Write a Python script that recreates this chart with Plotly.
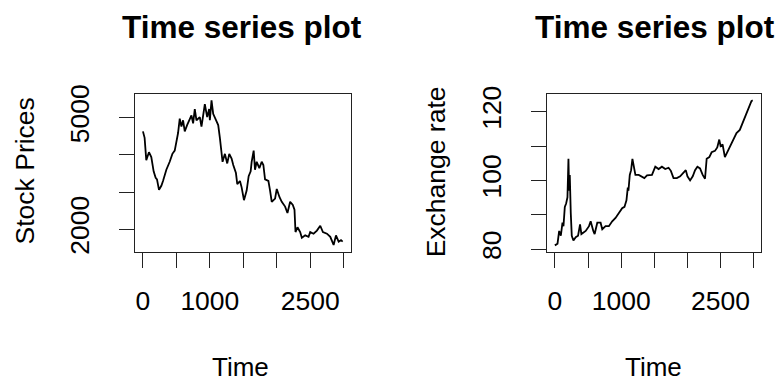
import plotly.graph_objects as go

# ---- data ----
stock_t = [0, 25, 50, 90, 125, 160, 190, 210, 240, 275, 300, 350, 400, 440, 475, 500, 525, 550, 575,
           600, 625, 660, 700, 725, 750, 775, 800, 850, 875, 925, 960, 990, 1000, 1025, 1050, 1090,
           1125, 1150, 1175, 1190, 1225, 1260, 1290, 1325, 1350, 1390, 1410, 1450, 1475, 1510, 1550,
           1580, 1610, 1625, 1655, 1675, 1700, 1740, 1775, 1800, 1825, 1875, 1900, 1925, 1975, 2000,
           2040, 2075, 2125, 2160, 2200, 2240, 2265, 2280, 2310, 2350, 2375, 2425, 2475, 2500, 2550,
           2600, 2650, 2690, 2750, 2800, 2850, 2885, 2925, 2960, 2985]
stock_v = [4632, 4459, 3858, 4072, 3943, 3556, 3383, 3342, 3060, 3169, 3298, 3600, 3814, 4028, 4115,
           4374, 4588, 4975, 4760, 4931, 4632, 4802, 4975, 5060, 4846, 5233, 4931, 5018, 4760, 5362,
           5018, 5233, 4931, 5465, 5104, 4931, 4802, 4459, 4072, 3814, 4028, 3770, 4028, 3899, 3728,
           3512, 3213, 3298, 3126, 2782, 3040, 3427, 3556, 3814, 4115, 3600, 3814, 3641, 3814, 3728,
           3342, 3298, 3040, 2738, 2825, 3084, 2867, 2738, 2609, 2438, 2738, 2653, 2524, 1923, 2052,
           1923, 1768, 1835, 1794, 1923, 1879, 1964, 2093, 1923, 1879, 1794, 1577, 1835, 1665, 1706,
           1665]

fx_t = [0, 40, 65, 90, 115, 130, 150, 170, 190, 205, 215, 225, 240, 255, 280, 315, 350, 380, 400,
        465, 515, 540, 580, 600, 640, 690, 715, 765, 815, 865, 915, 965, 1015, 1050, 1080, 1100, 1110,
        1130, 1150, 1170, 1190, 1215, 1265, 1315, 1350, 1390, 1465, 1515, 1565, 1615, 1665, 1715, 1750,
        1790, 1840, 1890, 1940, 1975, 2000, 2040, 2080, 2115, 2150, 2190, 2230, 2265, 2290, 2330, 2365,
        2415, 2450, 2480, 2500, 2530, 2565, 2600, 2640, 2690, 2740, 2790, 2840, 2890, 2930, 2965, 2985]
fx_v = [81.1, 81.6, 85.3, 83.9, 87.7, 86.7, 92.3, 93.3, 95.1, 106.3, 97.0, 101.6, 90.5, 83.9, 82.5,
        83.5, 83.9, 87.2, 84.4, 85.3, 86.7, 88.1, 85.3, 84.4, 87.7, 87.7, 85.8, 86.7, 86.7, 88.1, 89.1,
        90.5, 91.9, 92.3, 94.2, 97.9, 97.0, 101.6, 103.0, 106.3, 104.4, 101.6, 101.6, 101.2, 100.7,
        101.5, 101.6, 104.0, 103.3, 104.0, 103.3, 103.7, 102.8, 100.7, 100.7, 101.2, 102.1, 103.0,
        101.2, 100.0, 101.2, 103.0, 104.0, 103.5, 101.6, 100.5, 106.3, 106.8, 108.2, 108.6, 109.6,
        111.9, 110.0, 110.5, 106.8, 108.2, 109.6, 111.9, 113.8, 114.7, 117.0, 119.4, 121.2, 123.1, 123.3]

x_ticks = [0, 500, 1000, 1500, 2000, 2500, 3000]
x_ticktext = ["0", "", "1000", "", "", "2500", ""]
stock_ticks = [2000, 3000, 4000, 5000]
stock_ticktext = ["2000", "", "", "5000"]
fx_ticks = [80, 90, 100, 110, 120]
fx_ticktext = ["80", "", "100", "", "120"]

W, H = 782, 381
FONT = "Liberation Sans, Arial, sans-serif"

fig = go.Figure()
fig.add_trace(go.Scatter(x=stock_t, y=stock_v, mode="lines", line=dict(color="black", width=1.8),
                         xaxis="x", yaxis="y", showlegend=False))
fig.add_trace(go.Scatter(x=fx_t, y=fx_v, mode="lines", line=dict(color="black", width=1.8),
                         xaxis="x2", yaxis="y2", showlegend=False))

def px_x(p):
    return p / W

def px_y(p):
    return 1 - p / H

ax_common = dict(showgrid=False, zeroline=False, showline=True, mirror=True, linecolor="#222222",
                 linewidth=1.2, ticks="outside", ticklen=15, tickwidth=1.2, tickcolor="#222222",
                 tickfont=dict(family=FONT, size=26.5, color="black"))

ydom = [px_y(254), px_y(89)]
fig.update_layout(
    width=W, height=H, margin=dict(l=0, r=0, t=0, b=0),
    paper_bgcolor="white", plot_bgcolor="white",
    xaxis=dict(domain=[px_x(135), px_x(351)], range=[-118.6, 3109.6], tickvals=x_ticks,
               ticktext=x_ticktext, anchor="y", ticklabelstandoff=10, **ax_common),
    yaxis=dict(domain=ydom, range=[1396, 5637], tickvals=stock_ticks, ticktext=stock_ticktext,
               tickangle=-90, anchor="x", ticklabelstandoff=19, **ax_common),
    xaxis2=dict(domain=[px_x(547), px_x(761)], range=[-118.6, 3109.6], tickvals=x_ticks,
                ticktext=x_ticktext, anchor="y2", ticklabelstandoff=10, **ax_common),
    yaxis2=dict(domain=ydom, range=[79.27, 125.15], tickvals=fx_ticks, ticktext=fx_ticktext,
                tickangle=-90, anchor="x2", ticklabelstandoff=19, **ax_common),
)

anns = [
    dict(text="<b>Time series plot</b>", x=px_x(242.5), y=px_y(19), size=31.5),
    dict(text="<b>Time series plot</b>", x=px_x(655), y=px_y(19), size=31.5),
    dict(text="Time", x=px_x(241), y=px_y(375), size=26),
    dict(text="Time", x=px_x(653), y=px_y(375), size=26),
    dict(text="Stock Prices", x=px_x(25), y=px_y(170), size=26.5, angle=-90),
    dict(text="Exchange rate", x=px_x(436), y=px_y(171), size=26.5, angle=-90),
]
for a in anns:
    fig.add_annotation(text=a["text"], x=a["x"], y=a["y"], xref="paper", yref="paper",
                       xanchor="center", yanchor="middle", showarrow=False,
                       textangle=a.get("angle", 0),
                       font=dict(family=FONT, size=a["size"], color="black"))

fig.write_html("out.html", config={"displayModeBar": False},
               post_script="document.body.style.margin='0';document.body.style.overflow='hidden';")
